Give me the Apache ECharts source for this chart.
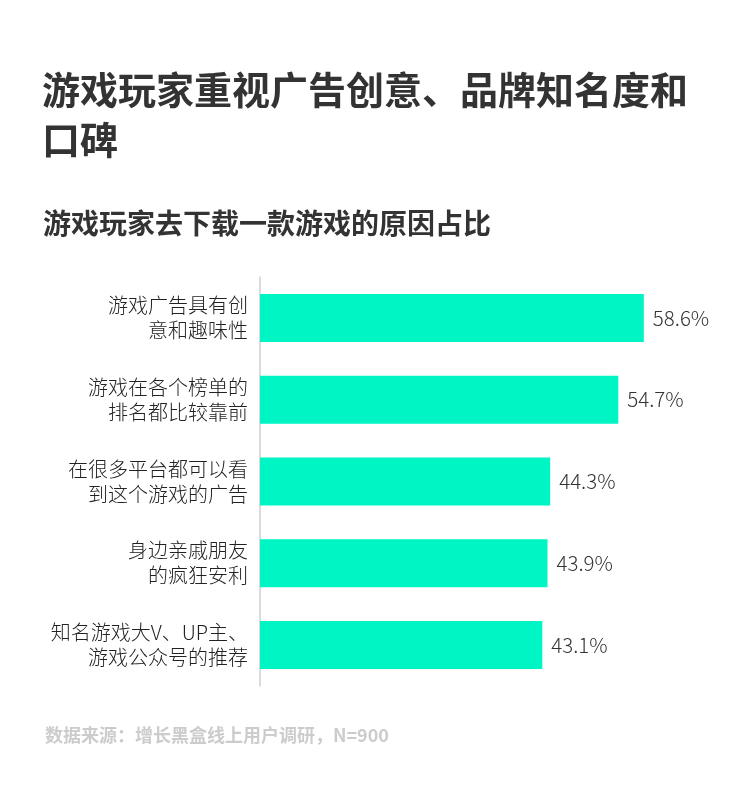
<!DOCTYPE html>
<html>
<head>
<meta charset="utf-8">
<script src="https://cdn.jsdelivr.net/npm/echarts@6/dist/echarts.min.js"></script>
<style>
html,body{margin:0;padding:0;background:#fff;}
#c{width:750px;height:802px;}
</style>
</head>
<body>
<div id="c"></div>
<script>
const titleLines = ['游戏玩家重视广告创意、品牌知名度和', '口碑'];
const subtitle = '游戏玩家去下载一款游戏的原因占比';
const source = '数据来源：增长黑盒线上用户调研，N=900';
const categories = [
  '游戏广告具有创\n意和趣味性',
  '游戏在各个榜单的\n排名都比较靠前',
  '在很多平台都可以看\n到这个游戏的广告',
  '身边亲戚朋友\n的疯狂安利',
  '知名游戏大V、UP主、\n游戏公众号的推荐'
];
const values = [58.6, 54.7, 44.3, 43.9, 43.1];

const chart = echarts.init(document.getElementById('c'));
const font = '"Noto Sans CJK SC", "Noto Sans", sans-serif';
chart.setOption({
  backgroundColor: '#fff',
  textStyle: { fontFamily: font },
  title: [
    { text: titleLines.join('\n'), left: 37, top: 60,
      textStyle: { fontSize: 38, fontWeight: 'bold', color: '#333', lineHeight: 50, fontFamily: font } },
    { text: subtitle, left: 38, top: 203,
      textStyle: { fontSize: 28, fontWeight: 'bold', color: '#333', lineHeight: 30, fontFamily: font } },
    { text: source, left: 40, top: 718,
      textStyle: { fontSize: 18, fontWeight: 'bold', color: '#cccccc', lineHeight: 24, fontFamily: font } }
  ],
  grid: { left: 260, top: 277, width: 458.5, height: 409, containLabel: false },
  xAxis: {
    type: 'value', min: 0, max: 70,
    show: false
  },
  yAxis: {
    type: 'category', data: categories, inverse: true,
    axisLine: { show: true, lineStyle: { color: '#cfcfcf', width: 1.5 } },
    axisTick: { show: false },
    axisLabel: { fontSize: 20, color: '#222', lineHeight: 25, margin: 12, align: 'right', fontWeight: 300, fontFamily: font }
  },
  series: [{
    type: 'bar', data: values, barWidth: 48,
    itemStyle: { color: '#00F5C4' },
    label: { show: true, position: 'right', distance: 9, formatter: '{c}%',
      fontSize: 20.5, color: '#333', fontWeight: 300, fontFamily: font },
    animation: false
  }],
  animation: false
});
</script>
</body>
</html>
